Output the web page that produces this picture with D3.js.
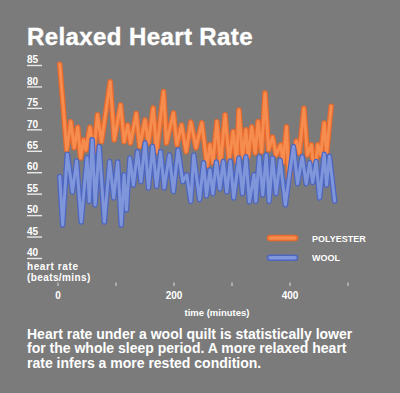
<!DOCTYPE html>
<html>
<head>
<meta charset="utf-8">
<script src="https://cdn.jsdelivr.net/npm/d3@7"></script>
<style>
  html, body { margin: 0; padding: 0; background: #7b7b7b; }
  svg { display: block; font-family: "Liberation Sans", Arial, sans-serif; }
</style>
</head>
<body>
<svg id="svg" width="400" height="393"></svg>
<script>
// values (minutes, beats per minute)
var polyesterMin = [3,15,22,28,34,39,44,48,55,62,68,75,90,97,108,114,120,125,135,141,150,156,164,170,182,187,199,205,213,221,229,238,248,257,262,267,274,280,288,295,302,308,312,318,324,328,334,340,345,351,357,363,370,376,384,388,394,398,411,416,424,430,437,442,448,453,459,463,471];
var polyesterBpm = [85.2,65.2,71.8,65.7,70.5,63.3,67.5,65.2,70.5,64.8,73.4,67.1,81.1,67.5,75.7,67.1,71,66.8,73.7,66,72.2,66.8,75,64.8,78.8,66.8,73.8,66.4,71,64.8,71.7,65.7,71.5,61.5,66.4,62.2,71.8,61.7,73.4,62.9,69.5,62.5,74.5,63.6,69.9,63.6,70.6,64.5,71.8,64.8,78.5,65.2,68.2,64,66.4,62.2,70.6,58,67.3,64.5,74.9,64,66.4,59,66.4,64,71.5,64.3,75.4];

var woolMin = [3,8,16,25,32,40,50,54,59,64,71,80,89,96,103,109,114,118,124,130,137,143,150,156,163,170,177,183,192,199,207,215,222,229,234,244,251,256,262,267,273,279,285,291,297,303,312,318,324,330,338,341,347,353,359,364,370,376,383,392,406,413,421,428,434,439,445,451,459,463,468,477];
var woolBpm = [59,47.7,64.2,55.4,62.6,48.4,63.4,53.2,67.6,52.4,66,48.4,62.5,54,62.4,47.7,59.4,51.2,63.3,57,64.8,57.8,66.8,56.3,66,56.7,64.8,56.3,64,55.5,65.2,57.8,59.4,53.2,64,53.6,62.2,54.5,60.5,55,62.4,56.1,62.5,55.4,62.6,54,63.3,55,63.6,53.1,59.4,53.2,63.6,54.7,64,53.2,63.3,55,62.8,52.4,66,57.3,63.6,57.3,62.2,57.6,62.5,54,64.2,57,63.7,53.3];

var yTicks = [40, 45, 50, 55, 60, 65, 70, 75, 80, 85];
var xTicks = [0, 100, 200, 300, 400, 500];
var xLabels = [0, 200, 400];
var seriesNames = ["POLYESTER", "WOOL"];

var svg = d3.select("#svg");

var x = d3.scaleLinear().domain([0, 400]).range([58, 290]);
var y = d3.scaleLinear().domain([40, 85]).range([258, 65]);

var colors = {
    POLYESTER: { edge: "#e6692d", fill: "#f68d4f" },
    WOOL: { edge: "#4d66c0", fill: "#8096db" }
};

svg.append("rect")
    .attr("width", 400)
    .attr("height", 393)
    .attr("fill", "#7b7b7b");

svg.append("text")
    .attr("x", 27)
    .attr("y", 45)
    .attr("fill", "#fff")
    .attr("font-size", 24)
    .attr("font-weight", "bold")
    .attr("letter-spacing", 0.4)
    .attr("stroke", "#fff")
    .attr("stroke-width", 0.4)
    .text("Relaxed Heart Rate");

// y ticks: label with underline
var yAxis = svg.append("g").attr("class", "y-axis");

yAxis.selectAll("text")
    .data(yTicks)
    .enter()
    .append("text")
    .attr("x", 27)
    .attr("y", d => y(d) - 1.8)
    .attr("fill", "#fff")
    .attr("font-size", 10)
    .attr("font-weight", "bold")
    .text(d => d);

yAxis.selectAll("line")
    .data(yTicks)
    .enter()
    .append("line")
    .attr("x1", 27)
    .attr("x2", 42)
    .attr("y1", d => y(d) + 0.5)
    .attr("y2", d => y(d) + 0.5)
    .attr("stroke", "#e8e8e8")
    .attr("stroke-width", 1.4);

svg.append("text")
    .attr("x", 27)
    .attr("y", 270)
    .attr("fill", "#fff")
    .attr("font-size", 10)
    .attr("font-weight", "bold")
    .attr("letter-spacing", 0.6)
    .text("heart rate");

svg.append("text")
    .attr("x", 27)
    .attr("y", 280.5)
    .attr("fill", "#fff")
    .attr("font-size", 10)
    .attr("font-weight", "bold")
    .attr("letter-spacing", 0.4)
    .text("(beats/mins)");

// x axis
var xAxis = svg.append("g").attr("class", "x-axis");

xAxis.selectAll("line")
    .data(xTicks)
    .enter()
    .append("line")
    .attr("x1", d => x(d))
    .attr("x2", d => x(d))
    .attr("y1", 282.5)
    .attr("y2", 286)
    .attr("stroke", "#e0e0e0")
    .attr("stroke-width", 1);

xAxis.selectAll("text")
    .data(xLabels)
    .enter()
    .append("text")
    .attr("x", d => x(d))
    .attr("y", 299)
    .attr("text-anchor", "middle")
    .attr("fill", "#fff")
    .attr("font-size", 10)
    .attr("font-weight", "bold")
    .text(d => d);

svg.append("text")
    .attr("x", 217)
    .attr("y", 316)
    .attr("text-anchor", "middle")
    .attr("fill", "#fff")
    .attr("font-size", 9.5)
    .attr("font-weight", "bold")
    .text("time (minutes)");

// lines
var line = d3.line()
    .x(d => x(d[0]))
    .y(d => y(d[1]));

var series = [
    { name: "POLYESTER", values: d3.zip(polyesterMin, polyesterBpm) },
    { name: "WOOL", values: d3.zip(woolMin, woolBpm) }
];

series.forEach(s => {
    var g = svg.append("g").attr("class", "series");
    g.append("path")
        .datum(s.values)
        .attr("d", line)
        .attr("fill", "none")
        .attr("stroke", colors[s.name].edge)
        .attr("stroke-width", 5.5)
        .attr("stroke-linejoin", "round")
        .attr("stroke-linecap", "round");
    g.append("path")
        .datum(s.values)
        .attr("d", line)
        .attr("fill", "none")
        .attr("stroke", colors[s.name].fill)
        .attr("stroke-width", 3)
        .attr("stroke-linejoin", "round")
        .attr("stroke-linecap", "round");
});

// legend
var legend = svg.append("g")
    .attr("class", "legend")
    .selectAll("g")
    .data(seriesNames)
    .enter()
    .append("g")
    .attr("transform", (d, i) => "translate(0," + (238 + i * 19.7) + ")");

legend.append("line")
    .attr("x1", 270)
    .attr("x2", 295)
    .attr("stroke", d => colors[d].edge)
    .attr("stroke-width", 6.5)
    .attr("stroke-linecap", "round");

legend.append("line")
    .attr("x1", 270)
    .attr("x2", 295)
    .attr("stroke", d => colors[d].fill)
    .attr("stroke-width", 3.5)
    .attr("stroke-linecap", "round");

legend.append("text")
    .attr("x", 312)
    .attr("y", 3.6)
    .attr("fill", "#fff")
    .attr("font-size", 9)
    .attr("font-weight", "bold")
    .text(d => d);

// caption
var caption = [
    "Heart rate under a wool quilt is statistically lower",
    "for the whole sleep period. A more relaxed heart",
    "rate infers a more rested condition."
];

svg.append("g")
    .selectAll("text")
    .data(caption)
    .enter()
    .append("text")
    .attr("x", 27)
    .attr("y", (d, i) => 338.5 + i * 14.5)
    .attr("fill", "#fff")
    .attr("font-size", 14)
    .attr("font-weight", "bold")
    .text(d => d);
</script>
</body>
</html>
